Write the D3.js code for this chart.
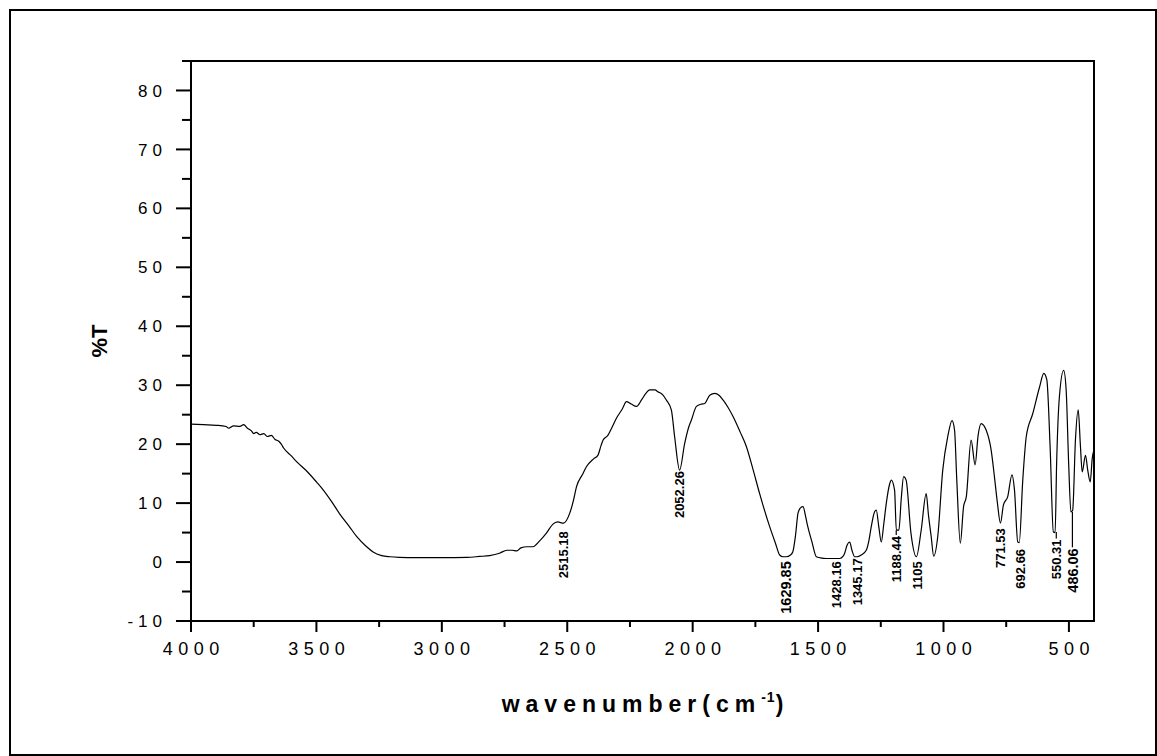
<!DOCTYPE html>
<html>
<head>
<meta charset="utf-8">
<script src="https://cdn.jsdelivr.net/npm/d3@7"></script>
<style>
  html, body { margin: 0; padding: 0; background: #fff; }
  svg text { font-family: "Liberation Sans", Arial, sans-serif; fill: #000; }
</style>
</head>
<body>
<div id="chart"></div>
<script>
// spectrum: wavenumber (cm-1) and %T
const wavenumber = [
  4000, 3950, 3900, 3860, 3850, 3830, 3805, 3790, 3775, 3760, 3750, 3740, 3725, 3710, 3695,
  3680, 3665, 3650, 3640, 3630, 3600, 3578, 3538, 3500, 3474, 3440, 3406, 3370, 3339, 3300,
  3274, 3240, 3207, 3170, 3100, 3000, 2900, 2850, 2809, 2770, 2741, 2720, 2701, 2685, 2660,
  2637, 2610, 2583, 2558, 2538, 2515, 2490, 2475, 2463, 2440, 2423, 2395, 2378, 2365, 2357,
  2338, 2320, 2304, 2280, 2264, 2245, 2224, 2204, 2185, 2171, 2150, 2139, 2120, 2105, 2085,
  2072, 2052, 2032, 2015, 2005, 1985, 1965, 1952, 1932, 1912, 1895, 1879, 1860, 1839, 1810,
  1786, 1760, 1733, 1693, 1670, 1653, 1640, 1627, 1610, 1601, 1590, 1580, 1570, 1560, 1550,
  1541, 1525, 1507, 1490, 1467, 1440, 1414, 1400, 1394, 1385, 1374, 1365, 1354, 1345, 1328,
  1308, 1298, 1288, 1275, 1268, 1258, 1248, 1238, 1228, 1215, 1208, 1195, 1188, 1178, 1168,
  1159, 1149, 1130, 1108, 1089, 1069, 1060, 1049, 1039, 1023, 1003, 983, 966, 956, 947,
  933, 920, 909, 890, 874, 862, 850, 830, 810, 797, 785, 773, 761, 744, 727,
  717, 704, 698, 684, 670, 644, 617, 600, 588, 575, 562, 555, 549, 538, 521,
  511, 501, 492, 485, 474, 463, 454, 447, 434, 425, 415, 407, 400
];
const transmittance = [
  23.4, 23.3, 23.2, 23.0, 22.7, 23.1, 23.0, 23.3, 22.7, 22.3, 21.8, 22.0, 21.6, 21.8, 21.3,
  21.5, 20.8, 20.5, 20.0, 19.3, 18.0, 17.0, 15.4, 13.6, 12.3, 10.3, 8.1, 6.1, 4.3, 2.6,
  1.7, 1.1, 0.9, 0.8, 0.75, 0.75, 0.8, 0.95, 1.1, 1.5, 2.0, 2.0, 1.9, 2.4, 2.6,
  2.6, 3.6, 4.9, 6.4, 6.8, 6.6, 8.3, 10.5, 12.8, 14.8, 16.2, 17.5, 18.1, 19.8, 20.7,
  21.5, 23.0, 24.4, 26.0, 27.2, 26.8, 26.4, 27.5, 28.7, 29.2, 29.2, 28.9, 28.4, 27.5, 25.8,
  21.3, 15.6, 20.1, 23.0, 24.1, 26.4, 26.8, 26.9, 28.3, 28.6, 28.3, 27.5, 26.3, 24.7, 22.0,
  19.6, 15.8, 11.6, 6.0, 3.2, 1.2, 0.9, 0.9, 1.2, 1.7, 4.5, 8.3, 9.2, 9.4, 7.8,
  6.0, 3.5, 0.9, 0.7, 0.6, 0.6, 0.6, 1.0, 1.5, 2.8, 3.4, 2.0, 0.9, 0.9, 1.2,
  2.0, 3.5, 6.0, 8.5, 8.8, 6.0, 3.4, 6.5, 10.0, 13.2, 13.9, 12.2, 5.4, 5.4, 11.0,
  14.5, 13.9, 5.0, 0.9, 5.4, 11.6, 8.0, 4.3, 1.0, 4.3, 15.6, 21.3, 24.0, 22.4, 13.9,
  3.2, 9.4, 11.1, 20.7, 16.5, 21.5, 23.5, 22.4, 19.0, 14.5, 10.0, 6.6, 9.7, 11.1, 14.8,
  12.2, 3.4, 3.3, 13.9, 21.3, 25.2, 29.7, 32.0, 30.9, 19.6, 5.1, 5.0, 16.7, 28.0, 32.5,
  29.2, 16.7, 8.5, 8.8, 20.7, 25.8, 19.6, 15.3, 18.1, 15.6, 13.6, 17.6, 19.0
];

// peak labels: wavenumber, label text, %T at the curve, %T where the label starts
const peakWn    = [2515.18, 2052.26, 1629.85, 1428.16, 1345.17, 1188.44, 1105, 771.53, 692.66, 550.31, 486.06];
const peakText  = ["2515.18", "2052.26", "1629.85", "1428.16", "1345.17", "1188.44", "1105", "771.53", "692.66", "550.31", "486.06"];
const peakT     = [6.6, 15.6, 0.9, 0.6, 0.9, 5.4, 0.9, 6.6, 3.4, 5.1, 8.5];
const labelT    = [5.4, 15.6, 0.3, 0.3, 0.8, 4.6, 0.3, 5.9, 2.4, 4.0, 2.5];
const withLeader = ["1188.44", "550.31", "486.06"];
const bigLabels  = ["1629.85", "486.06"];

const xTicks = [4000, 3500, 3000, 2500, 2000, 1500, 1000, 500];
const yTicks = [-10, 0, 10, 20, 30, 40, 50, 60, 70, 80];

const width = 1157;
const height = 756;
const margin = { top: 61, right: 63, bottom: 135, left: 191 };
const iw = width - margin.left - margin.right;
const ih = height - margin.top - margin.bottom;

const x = d3.scaleLinear().domain([4000, 400]).range([0, iw]);
const y = d3.scaleLinear().domain([-10, 85]).range([ih, 0]);

const svg = d3.select('#chart').append('svg')
  .attr('width', width)
  .attr('height', height);

// outer frame
svg.append('rect')
  .attr('x', 10).attr('y', 10)
  .attr('width', 1146).attr('height', 745)
  .attr('fill', 'none')
  .attr('stroke', '#000')
  .attr('stroke-width', 2);

const g = svg.append('g')
  .attr('transform', `translate(${margin.left},${margin.top})`);

// plot box
g.append('rect')
  .attr('width', iw).attr('height', ih)
  .attr('fill', 'none')
  .attr('stroke', '#000')
  .attr('stroke-width', 2);

// y axis
const yMinor = d3.range(-5, 86, 10);
const yAxis = g.append('g');
yAxis.selectAll('line.minor').data(yMinor).enter().append('line')
  .attr('x1', -9).attr('x2', 0)
  .attr('y1', d => y(d)).attr('y2', d => y(d))
  .attr('stroke', '#000').attr('stroke-width', 2);
yAxis.selectAll('line.major').data(yTicks).enter().append('line')
  .attr('x1', -15).attr('x2', 0)
  .attr('y1', d => y(d)).attr('y2', d => y(d))
  .attr('stroke', '#000').attr('stroke-width', 2);
yAxis.selectAll('text').data(yTicks).enter().append('text')
  .attr('x', -24)
  .attr('y', d => y(d))
  .attr('dy', '0.36em')
  .attr('text-anchor', 'end')
  .style('font-size', '17px')
  .style('letter-spacing', '5px')
  .text(d => d);

// x axis
const xMinor = d3.range(3750, 400, -500);
const xAxis = g.append('g').attr('transform', `translate(0,${ih})`);
xAxis.selectAll('line.minor').data(xMinor).enter().append('line')
  .attr('x1', d => x(d)).attr('x2', d => x(d))
  .attr('y1', 0).attr('y2', 6)
  .attr('stroke', '#000').attr('stroke-width', 2);
xAxis.selectAll('line.major').data(xTicks).enter().append('line')
  .attr('x1', d => x(d)).attr('x2', d => x(d))
  .attr('y1', 0).attr('y2', 11)
  .attr('stroke', '#000').attr('stroke-width', 2);
xAxis.selectAll('text').data(xTicks).enter().append('text')
  .attr('x', d => x(d) + 2.75)
  .attr('y', 34)
  .attr('text-anchor', 'middle')
  .style('font-size', '18px')
  .style('letter-spacing', '5.5px')
  .text(d => d);

// axis titles
svg.append('text')
  .attr('transform', `translate(107,${margin.top + ih / 2}) rotate(-90)`)
  .attr('text-anchor', 'middle')
  .style('font-size', '22px')
  .style('font-weight', 'bold')
  .text('%T');

const xt = svg.append('text')
  .attr('x', margin.left + iw / 2 + 3)
  .attr('y', 712)
  .attr('text-anchor', 'middle')
  .style('font-size', '23px')
  .style('font-weight', 'bold')
  .style('letter-spacing', '6px');
xt.append('tspan').text('wavenumber(cm');
xt.append('tspan').attr('dy', -10).style('font-size', '14px').style('letter-spacing', '1px').text('-1');
xt.append('tspan').attr('dy', 10).text(')');

// spectrum
const data = wavenumber.map((w, i) => ({ w: w, t: transmittance[i] }));
const line = d3.line()
  .x(d => x(d.w))
  .y(d => y(d.t))
  .curve(d3.curveMonotoneX);

g.append('path')
  .datum(data)
  .attr('fill', 'none')
  .attr('stroke', '#000')
  .attr('stroke-width', 1.2)
  .attr('d', line);

// peak labels
const peaks = peakWn.map((w, i) => ({ w: w, text: peakText[i], t: peakT[i], lt: labelT[i] }));
const pg = g.append('g');
pg.selectAll('line').data(peaks.filter(d => withLeader.includes(d.text))).enter().append('line')
  .attr('x1', d => x(d.w)).attr('x2', d => x(d.w))
  .attr('y1', d => y(d.t)).attr('y2', d => y(d.lt))
  .attr('stroke', '#000').attr('stroke-width', 1.2);
pg.selectAll('text').data(peaks).enter().append('text')
  .attr('transform', d => `translate(${x(d.w)},${y(d.lt) + 1}) rotate(-90)`)
  .attr('text-anchor', 'end')
  .attr('dy', '0.36em')
  .style('font-size', d => bigLabels.includes(d.text) ? '14.5px' : '13px')
  .style('font-weight', 'bold')
  .text(d => d.text);
</script>
</body>
</html>
